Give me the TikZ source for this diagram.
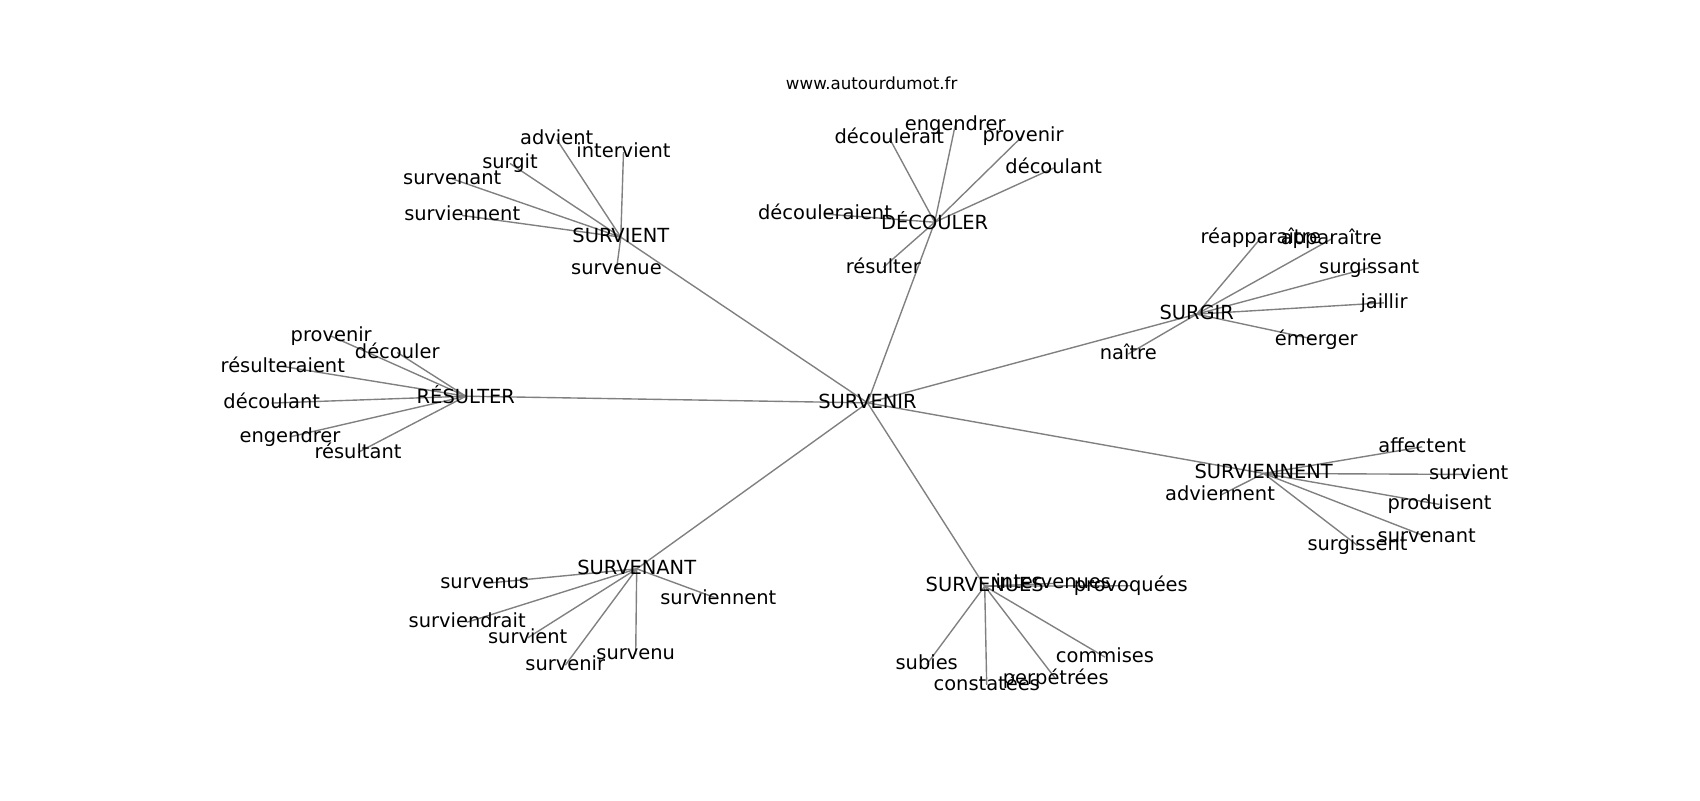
\documentclass[tikz,border=0pt]{standalone}
\usepackage{fontspec}
\setmainfont{DejaVu Sans}
\usepackage{tikz}
\usetikzlibrary{calc}
\pgfdeclarelayer{background}
\pgfsetlayers{background,main}

\tikzset{
  word/.style={inner sep=0pt, anchor=base, font=\fontsize{14}{16}\selectfont,
    execute at begin node=\vphantom{lp}},
  edge/.style={draw=black!50, line width=1pt}
}

\begin{document}
\begin{tikzpicture}[x=0.72pt, y=-0.72pt]
    \useasboundingbox (0,-1.5) rectangle (1700,798.5);
    % Title
    \node[inner sep=0pt, anchor=base, font=\fontsize{12}{14}\selectfont] (title) at (871.7,88.3) {www.autourdumot.fr};
    % Central word
    \node[word] (survenir) at (867.5,406.7) {SURVENIR};
    % Group SURVIENT
    \node[word] (survient) at (620.8,241) {SURVIENT};
    \node[word] (survient-advient) at (556.7,143.3) {advient};
    \node[word] (survient-intervient) at (623.5,156) {intervient};
    \node[word] (survient-surgit) at (510,167.3) {surgit};
    \node[word] (survient-survenant) at (452.2,182.7) {survenant};
    \node[word] (survient-surviennent) at (462.2,219.3) {surviennent};
    \node[word] (survient-survenue) at (616.5,273.3) {survenue};
    % Group DECOULER
    \node[word] (decouler) at (934.7,227.7) {DÉCOULER};
    \node[word] (decouler-decoulerait) at (889.3,142.3) {découlerait};
    \node[word] (decouler-engendrer) at (955.2,129.3) {engendrer};
    \node[word] (decouler-provenir) at (1023,139.5) {provenir};
    \node[word] (decouler-decoulant) at (1053.7,172.3) {découlant};
    \node[word] (decouler-decouleraient) at (825,218.3) {découleraient};
    \node[word] (decouler-resulter) at (883.3,271.7) {résulter};
    % Group SURGIR
    \node[word] (surgir) at (1196.7,318) {SURGIR};
    \node[word] (surgir-reapparaitre) at (1260.8,242.3) {réapparaître};
    \node[word] (surgir-apparaitre) at (1331.3,243.3) {apparaître};
    \node[word] (surgir-surgissant) at (1369.2,271.7) {surgissant};
    \node[word] (surgir-jaillir) at (1384,306.7) {jaillir};
    \node[word] (surgir-emerger) at (1316.3,344) {émerger};
    \node[word] (surgir-naitre) at (1128.3,358.3) {naître};
    % Group RESULTER
    \node[word] (resulter) at (465.8,401.7) {RÉSULTER};
    \node[word] (resulter-provenir) at (331.2,340) {provenir};
    \node[word] (resulter-decouler) at (397.2,356.7) {découler};
    \node[word] (resulter-resulteraient) at (282.8,370.7) {résulteraient};
    \node[word] (resulter-decoulant) at (271.7,407.3) {découlant};
    \node[word] (resulter-engendrer) at (290,440.7) {engendrer};
    \node[word] (resulter-resultant) at (358,456.7) {résultant};
    % Group SURVIENNENT
    \node[word] (surviennent) at (1263.7,477.3) {SURVIENNENT};
    \node[word] (surviennent-affectent) at (1422.2,450.7) {affectent};
    \node[word] (surviennent-survient) at (1468.7,478.3) {survient};
    \node[word] (surviennent-adviennent) at (1220,499.3) {adviennent};
    \node[word] (surviennent-produisent) at (1439.5,508.3) {produisent};
    \node[word] (surviennent-survenant) at (1426.7,540.7) {survenant};
    \node[word] (surviennent-surgissent) at (1357.5,549.3) {surgissent};
    % Group SURVENANT
    \node[word] (survenant) at (636.7,572.7) {SURVENANT};
    \node[word] (survenant-survenus) at (484.7,587.3) {survenus};
    \node[word] (survenant-surviennent) at (718.3,602.7) {surviennent};
    \node[word] (survenant-surviendrait) at (467.2,626) {surviendrait};
    \node[word] (survenant-survient) at (527.7,641.7) {survient};
    \node[word] (survenant-survenu) at (635.7,658.3) {survenu};
    \node[word] (survenant-survenir) at (565.3,669) {survenir};
    % Group SURVENUES
    \node[word] (survenues) at (984.7,590) {SURVENUES};
    \node[word] (survenues-intervenues) at (1053.3,587.3) {intervenues};
    \node[word] (survenues-provoquees) at (1130.8,590) {provoquées};
    \node[word] (survenues-commises) at (1105,661) {commises};
    \node[word] (survenues-subies) at (926.7,668.3) {subies};
    \node[word] (survenues-perpetrees) at (1055.8,683.3) {perpétrées};
    \node[word] (survenues-constatees) at (986.7,689) {constatées};
    % Edges, drawn below the words
    \begin{pgfonlayer}{background}
    \draw[edge] (survenir.center) -- (survient.center);
    \draw[edge] (survenir.center) -- (decouler.center);
    \draw[edge] (survenir.center) -- (surgir.center);
    \draw[edge] (survenir.center) -- (resulter.center);
    \draw[edge] (survenir.center) -- (surviennent.center);
    \draw[edge] (survenir.center) -- (survenant.center);
    \draw[edge] (survenir.center) -- (survenues.center);
    % SURVIENT
    \draw[edge] (survient.center) -- (survient-advient.center);
    \draw[edge] (survient.center) -- (survient-intervient.center);
    \draw[edge] (survient.center) -- (survient-surgit.center);
    \draw[edge] (survient.center) -- (survient-survenant.center);
    \draw[edge] (survient.center) -- (survient-surviennent.center);
    \draw[edge] (survient.center) -- (survient-survenue.center);
    % DECOULER
    \draw[edge] (decouler.center) -- (decouler-decoulerait.center);
    \draw[edge] (decouler.center) -- (decouler-engendrer.center);
    \draw[edge] (decouler.center) -- (decouler-provenir.center);
    \draw[edge] (decouler.center) -- (decouler-decoulant.center);
    \draw[edge] (decouler.center) -- (decouler-decouleraient.center);
    \draw[edge] (decouler.center) -- (decouler-resulter.center);
    % SURGIR
    \draw[edge] (surgir.center) -- (surgir-reapparaitre.center);
    \draw[edge] (surgir.center) -- (surgir-apparaitre.center);
    \draw[edge] (surgir.center) -- (surgir-surgissant.center);
    \draw[edge] (surgir.center) -- (surgir-jaillir.center);
    \draw[edge] (surgir.center) -- (surgir-emerger.center);
    \draw[edge] (surgir.center) -- (surgir-naitre.center);
    % RESULTER
    \draw[edge] (resulter.center) -- (resulter-provenir.center);
    \draw[edge] (resulter.center) -- (resulter-decouler.center);
    \draw[edge] (resulter.center) -- (resulter-resulteraient.center);
    \draw[edge] (resulter.center) -- (resulter-decoulant.center);
    \draw[edge] (resulter.center) -- (resulter-engendrer.center);
    \draw[edge] (resulter.center) -- (resulter-resultant.center);
    % SURVIENNENT
    \draw[edge] (surviennent.center) -- (surviennent-affectent.center);
    \draw[edge] (surviennent.center) -- (surviennent-survient.center);
    \draw[edge] (surviennent.center) -- (surviennent-adviennent.center);
    \draw[edge] (surviennent.center) -- (surviennent-produisent.center);
    \draw[edge] (surviennent.center) -- (surviennent-survenant.center);
    \draw[edge] (surviennent.center) -- (surviennent-surgissent.center);
    % SURVENANT
    \draw[edge] (survenant.center) -- (survenant-survenus.center);
    \draw[edge] (survenant.center) -- (survenant-surviennent.center);
    \draw[edge] (survenant.center) -- (survenant-surviendrait.center);
    \draw[edge] (survenant.center) -- (survenant-survient.center);
    \draw[edge] (survenant.center) -- (survenant-survenu.center);
    \draw[edge] (survenant.center) -- (survenant-survenir.center);
    % SURVENUES
    \draw[edge] (survenues.center) -- (survenues-intervenues.center);
    \draw[edge] (survenues.center) -- (survenues-provoquees.center);
    \draw[edge] (survenues.center) -- (survenues-commises.center);
    \draw[edge] (survenues.center) -- (survenues-subies.center);
    \draw[edge] (survenues.center) -- (survenues-perpetrees.center);
    \draw[edge] (survenues.center) -- (survenues-constatees.center);
    \end{pgfonlayer}
\end{tikzpicture}
\end{document}
